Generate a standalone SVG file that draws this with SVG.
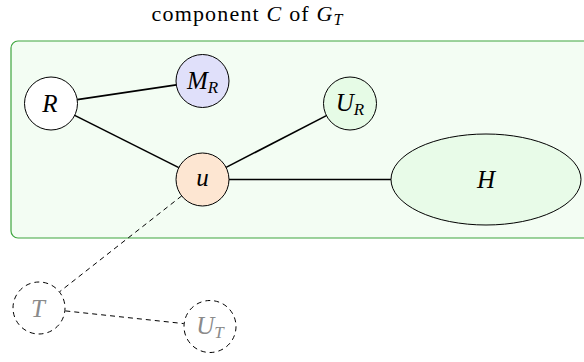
<svg xmlns="http://www.w3.org/2000/svg" width="584" height="362" viewBox="0 0 584 362" font-family="Liberation Serif, DejaVu Serif, serif">
<style>
.lbl{font-style:italic;font-size:25px;text-anchor:middle;fill:#000}
.sub{font-size:17px}
.gray{fill:#8a8a8a}
.node{stroke:#000;stroke-width:1}
.ghost{fill:#fff;stroke:#000;stroke-width:1;stroke-dasharray:5 4}
.edge{stroke:#000;stroke-width:1.6;fill:none}
.dash{stroke:#000;stroke-width:1;fill:none;stroke-dasharray:5 4}
</style>
<rect width="584" height="362" fill="#fff"/>
<text x="247" y="21" font-family="Liberation Serif, DejaVu Serif, serif" font-size="22" text-anchor="middle" textLength="191" lengthAdjust="spacing">component <tspan font-style="italic">C</tspan> of <tspan font-style="italic">G</tspan><tspan font-style="italic" font-size="16" dy="4">T</tspan></text>
<g id="component">
<rect x="11" y="41" width="600" height="197" rx="7" fill="#f3fdf3" stroke="#3fa63f" stroke-width="1.2"/>
</g>
<g id="connectors">
<line class="edge" x1="77.2" y1="99.6" x2="176.3" y2="84.9"/>
<line class="edge" x1="74.7" y1="115.4" x2="178.8" y2="167.6"/>
<line class="edge" x1="226.1" y1="167.4" x2="326.4" y2="115.6"/>
<line class="edge" x1="229" y1="179.5" x2="391" y2="179.5"/>
<line class="dash" x1="181.7" y1="195.9" x2="59.8" y2="291.6"/>
<line class="dash" x1="65.3" y1="310.9" x2="183.7" y2="323.6"/>
</g>
<g id="R">
<circle class="node" cx="51" cy="103.5" r="26.5" fill="#fff"/>
<text class="lbl" font-family="Liberation Serif, DejaVu Serif, serif" x="50" y="112">R</text>
</g>
<g id="MR">
<circle class="node" cx="202.5" cy="81" r="26.5" fill="#e0e0fa"/>
<text class="lbl" font-family="Liberation Serif, DejaVu Serif, serif" x="202.5" y="89">M<tspan class="sub" dy="4">R</tspan></text>
</g>
<g id="UR">
<circle class="node" cx="350" cy="103.5" r="26.5" fill="#e6fbe6"/>
<text class="lbl" font-family="Liberation Serif, DejaVu Serif, serif" x="350" y="111">U<tspan class="sub" dy="4">R</tspan></text>
</g>
<g id="u">
<circle class="node" cx="202.5" cy="179.5" r="26.5" fill="#fde6d2"/>
<text class="lbl" font-family="Liberation Serif, DejaVu Serif, serif" x="202.5" y="186">u</text>
</g>
<g id="H">
<ellipse class="node" cx="486" cy="179.5" rx="95" ry="45.5" fill="#e8fbe8"/>
<text class="lbl" font-family="Liberation Serif, DejaVu Serif, serif" x="486" y="188">H</text>
</g>
<g id="T">
<circle class="ghost" cx="39" cy="308" r="26"/>
<text class="lbl gray" font-family="Liberation Serif, DejaVu Serif, serif" x="38" y="316.5">T</text>
</g>
<g id="UT">
<circle class="ghost" cx="210" cy="326.5" r="26"/>
<text class="lbl gray" font-family="Liberation Serif, DejaVu Serif, serif" x="210" y="334">U<tspan class="sub" dy="4">T</tspan></text>
</g>
</svg>
